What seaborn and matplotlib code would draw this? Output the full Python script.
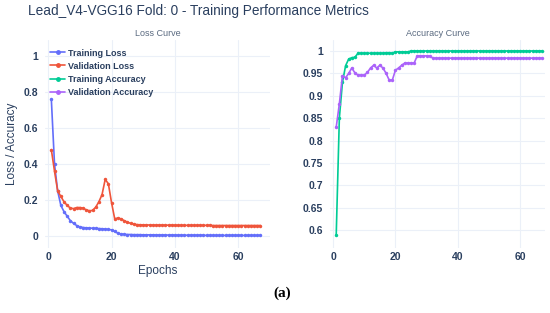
import numpy as np
import pandas as pd
import matplotlib
matplotlib.use('Agg')
import matplotlib.pyplot as plt
import seaborn as sns

# values
train_loss = [0.76, 0.40, 0.25, 0.17, 0.135, 0.11, 0.085, 0.07, 0.058, 0.05,
              0.047, 0.045, 0.044, 0.043, 0.042, 0.041, 0.040, 0.038, 0.036, 0.034,
              0.025, 0.015, 0.010, 0.009, 0.008, 0.008, 0.007, 0.007, 0.007, 0.006,
              0.006, 0.006, 0.006, 0.005, 0.005, 0.005, 0.005, 0.005, 0.005, 0.004,
              0.004, 0.004, 0.004, 0.004, 0.004, 0.004, 0.004, 0.004, 0.004, 0.003,
              0.003, 0.003, 0.003, 0.003, 0.003, 0.003, 0.003, 0.003, 0.003, 0.003,
              0.003, 0.003, 0.003, 0.003, 0.003, 0.003, 0.003]
val_loss = [0.48, 0.36, 0.25, 0.22, 0.19, 0.17, 0.155, 0.152, 0.158, 0.158,
            0.155, 0.145, 0.14, 0.142, 0.16, 0.19, 0.23, 0.315, 0.29, 0.185,
            0.095, 0.10, 0.095, 0.085, 0.077, 0.07, 0.066, 0.063, 0.062, 0.061,
            0.061, 0.061, 0.060, 0.060, 0.060, 0.060, 0.060, 0.060, 0.060, 0.059,
            0.059, 0.059, 0.059, 0.059, 0.059, 0.059, 0.059, 0.059, 0.059, 0.059,
            0.059, 0.058, 0.058, 0.058, 0.058, 0.058, 0.058, 0.058, 0.058, 0.058,
            0.058, 0.058, 0.058, 0.058, 0.058, 0.058, 0.058]
train_acc = [0.59, 0.85, 0.93, 0.967, 0.982, 0.985, 0.986, 0.995, 0.995, 0.995,
             0.995, 0.995, 0.995, 0.995, 0.995, 0.995, 0.996, 0.996, 0.995, 0.998,
             0.998, 0.998, 0.998, 0.998, 1.0, 1.0, 1.0, 1.0, 1.0, 1.0,
             1.0, 1.0, 1.0, 1.0, 1.0, 1.0, 1.0, 1.0, 1.0, 1.0,
             1.0, 1.0, 1.0, 1.0, 1.0, 1.0, 1.0, 1.0, 1.0, 1.0,
             1.0, 1.0, 1.0, 1.0, 1.0, 1.0, 1.0, 1.0, 1.0, 1.0,
             1.0, 1.0, 1.0, 1.0, 1.0, 1.0, 1.0]
val_acc = [0.83, 0.882, 0.945, 0.94, 0.95, 0.962, 0.951, 0.946, 0.946, 0.946,
           0.952, 0.962, 0.968, 0.962, 0.968, 0.962, 0.95, 0.935, 0.935, 0.957,
           0.962, 0.968, 0.973, 0.973, 0.973, 0.973, 0.989, 0.989, 0.989, 0.989,
           0.989, 0.984, 0.984, 0.984, 0.984, 0.984, 0.984, 0.984, 0.984, 0.984,
           0.984, 0.984, 0.984, 0.984, 0.984, 0.984, 0.984, 0.984, 0.984, 0.984,
           0.984, 0.984, 0.984, 0.984, 0.984, 0.984, 0.984, 0.984, 0.984, 0.984,
           0.984, 0.984, 0.984, 0.984, 0.984, 0.984, 0.984]
epochs = list(range(1, len(train_loss) + 1))

series_names = ['Training Loss', 'Validation Loss', 'Training Accuracy', 'Validation Accuracy']
colors = ['#636efa', '#EF553B', '#00cc96', '#ab63fa']

sns.set_theme(style='white')
plt.rcParams['font.family'] = ['Liberation Sans', 'DejaVu Sans']
text_col = '#2a3f5f'
grid_col = '#ebf0f8'

loss_df = pd.DataFrame({'Epoch': epochs * 2,
                        'value': train_loss + val_loss,
                        'series': ['Training Loss'] * len(epochs) + ['Validation Loss'] * len(epochs)})
acc_df = pd.DataFrame({'Epoch': epochs * 2,
                       'value': train_acc + val_acc,
                       'series': ['Training Accuracy'] * len(epochs) + ['Validation Accuracy'] * len(epochs)})

fig = plt.figure(figsize=(5.5, 3.13), dpi=100)
ax1 = fig.add_axes([45 / 550, 1 - 248 / 313, 225 / 550, 208 / 313])
ax2 = fig.add_axes([330 / 550, 1 - 248 / 313, 215 / 550, 208 / 313])

pal = dict(zip(series_names, colors))
sns.lineplot(data=loss_df, x='Epoch', y='value', hue='series', palette=pal, ax=ax1,
             marker='o', markersize=2.5, markeredgewidth=0, linewidth=1.2, legend=False)
sns.lineplot(data=acc_df, x='Epoch', y='value', hue='series', palette=pal, ax=ax2,
             marker='o', markersize=2.5, markeredgewidth=0, linewidth=1.2, legend=False)

ax1.set_xlim(-1, 70)
ax1.set_ylim(-0.067, 1.09)
ax1.set_yticks([0, 0.2, 0.4, 0.6, 0.8, 1])
ax1.set_yticklabels(['0', '0.2', '0.4', '0.6', '0.8', '1'])
ax2.set_xlim(-1, 68)
ax2.set_ylim(0.56, 1.0245)
ax2.set_yticks([0.6, 0.65, 0.7, 0.75, 0.8, 0.85, 0.9, 0.95, 1])
ax2.set_yticklabels(['0.6', '0.65', '0.7', '0.75', '0.8', '0.85', '0.9', '0.95', '1'])

for ax in (ax1, ax2):
    ax.set_xticks([0, 20, 40, 60])
    ax.grid(True, color=grid_col, linewidth=0.8)
    ax.set_axisbelow(True)
    for s in ax.spines.values():
        s.set_visible(False)
    ax.tick_params(axis='x', length=0, labelsize=7.5, labelcolor=text_col, pad=3)
    ax.tick_params(axis='y', length=0, labelsize=7.5, labelcolor=text_col, pad=5)
    for lab in ax.get_xticklabels() + ax.get_yticklabels():
        lab.set_fontweight('bold')
    ax.set_xlabel('')
    ax.set_ylabel('')

ax1.set_xlabel('Epochs', fontsize=8.5, color=text_col, labelpad=2)
ax1.set_ylabel('Loss / Accuracy', fontsize=8.5, color=text_col, labelpad=4)
ax1.set_title('Loss Curve', fontsize=6.5, color='#5a6a80', pad=3)
ax2.set_title('Accuracy Curve', fontsize=6.5, color='#5a6a80', pad=3)

handles = [plt.Line2D([], [], color=c, marker='o', markersize=2.5, linewidth=1.2) for c in colors]
leg = ax1.legend(handles, series_names, loc='upper left', bbox_to_anchor=(0.0, 0.985),
                 frameon=False, handlelength=1.6, labelspacing=0.45,
                 borderaxespad=0.2, handletextpad=0.4, prop={'weight': 'bold', 'size': 6.5})
for t in leg.get_texts():
    t.set_color(text_col)

fig.text(28 / 550, 1 - 11 / 313, 'Lead_V4-VGG16 Fold: 0 - Training Performance Metrics',
         fontsize=9.8, color=text_col, va='center', ha='left')
fig.text(282 / 550, 1 - 293 / 313, '(a)', fontsize=11, fontweight='bold',
         family='Liberation Serif', color='black', ha='center', va='center')

fig.savefig('out.png', dpi=100, facecolor='white')
